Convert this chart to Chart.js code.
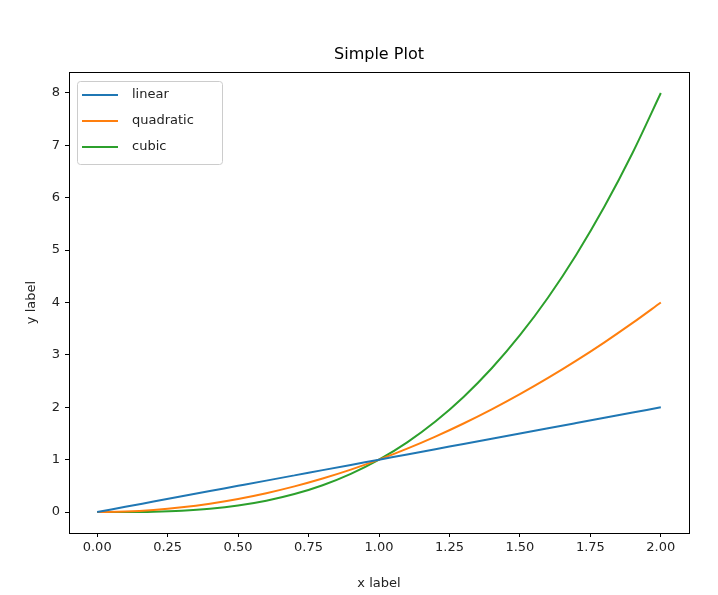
<!DOCTYPE html>
<html>
<head>
<script src="https://cdn.jsdelivr.net/npm/chart.js@4"></script>
<style>body{margin:0;background:#fff}#wrap{width:718px;height:595px}</style>
</head>
<body>
<div id="wrap"><canvas id="c"></canvas></div>
<script>
// Data
const xValues = [0,0.1,0.2,0.3,0.4,0.5,0.6,0.7,0.8,0.9,1.0,1.1,1.2,1.3,1.4,1.5,1.6,1.7,1.8,1.9,2.0];
const linear = [0,0.1,0.2,0.3,0.4,0.5,0.6,0.7,0.8,0.9,1.0,1.1,1.2,1.3,1.4,1.5,1.6,1.7,1.8,1.9,2.0];
const quadratic = [0,0.01,0.04,0.09,0.16,0.25,0.36,0.49,0.64,0.81,1,1.21,1.44,1.69,1.96,2.25,2.56,2.89,3.24,3.61,4];
const cubic = [0,0.001,0.008,0.027,0.064,0.125,0.216,0.343,0.512,0.729,1,1.331,1.728,2.197,2.744,3.375,4.096,4.913,5.832,6.859,8];
const xTicks = [0,0.25,0.5,0.75,1,1.25,1.5,1.75,2];
const yTicks = [0,1,2,3,4,5,6,7,8];
const seriesNames = ["linear","quadratic","cubic"];
const colors = ["#1f77b4","#ff7f0e","#2ca02c"];

const FONT = "DejaVu Sans";
Chart.defaults.font.family = FONT;
Chart.defaults.font.size = 13;
Chart.defaults.color = "#222";

const pts = ys => xValues.map((x, i) => ({x, y: ys[i]}));

// frame, title and legend box like matplotlib
const decor = {
	id: "decor",
	afterDraw(chart) {
		const {ctx, chartArea: a} = chart;
		ctx.save();
		ctx.strokeStyle = "#000";
		ctx.lineWidth = 1;
		ctx.strokeRect(a.left + 0.5, a.top + 0.5, a.right - a.left, a.bottom - a.top);
		ctx.fillStyle = "#000";
		ctx.font = "16px " + FONT;
		ctx.textAlign = "center";
		ctx.textBaseline = "alphabetic";
		ctx.fillText("Simple Plot", (a.left + a.right) / 2, 59);
		// legend
		const lx = a.left + 8, ly = a.top + 9;
		ctx.fillStyle = "rgba(255,255,255,0.8)";
		ctx.strokeStyle = "#ccc";
		ctx.beginPath();
		ctx.roundRect(lx + 0.5, ly + 0.5, 145, 83, 3);
		ctx.fill();
		ctx.stroke();
		ctx.font = "13px " + FONT;
		ctx.textAlign = "left";
		ctx.textBaseline = "middle";
		seriesNames.forEach((name, i) => {
			const y = ly + 14 + i * 26;
			ctx.strokeStyle = colors[i];
			ctx.lineWidth = 2;
			ctx.beginPath();
			ctx.moveTo(lx + 5, y);
			ctx.lineTo(lx + 41, y);
			ctx.stroke();
			ctx.fillStyle = "#222";
			ctx.fillText(name, lx + 55, y);
		});
		ctx.restore();
	}
};

new Chart(document.getElementById("c"), {
	type: "line",
	data: {
		datasets: [linear, quadratic, cubic].map((ys, i) => ({
			label: seriesNames[i],
			data: pts(ys),
			borderColor: colors[i],
			borderWidth: 2,
			pointRadius: 0,
			cubicInterpolationMode: "monotone",
		})),
	},
	options: {
		animation: false,
		responsive: true,
		maintainAspectRatio: false,
		layout: {padding: {top: 72, right: 29, left: 20, bottom: 0}},
		plugins: {legend: {display: false}, tooltip: {enabled: false}},
		scales: {
			x: {
				type: "linear",
				min: -0.1,
				max: 2.1,
				afterBuildTicks: s => { s.ticks = xTicks.map(v => ({value: v})); },
				afterFit: s => { s.height = 62; },
				grid: {drawOnChartArea: false, tickLength: 4, color: "#000"},
				border: {display: false},
				ticks: {color: "#222", maxRotation: 0, padding: 3, callback: v => v.toFixed(2)},
				title: {display: true, text: "x label", color: "#222", padding: {top: 0}},
			},
			y: {
				type: "linear",
				min: -0.4,
				max: 8.4,
				afterBuildTicks: s => { s.ticks = yTicks.map(v => ({value: v})); },
				afterFit: s => { s.width = 49; },
				grid: {drawOnChartArea: false, tickLength: 4, color: "#000"},
				border: {display: false},
				ticks: {color: "#222", padding: 5},
				title: {display: true, text: "y label", color: "#222", padding: {bottom: 0}},
			},
		},
	},
	plugins: [decor],
});
</script>
</body>
</html>
